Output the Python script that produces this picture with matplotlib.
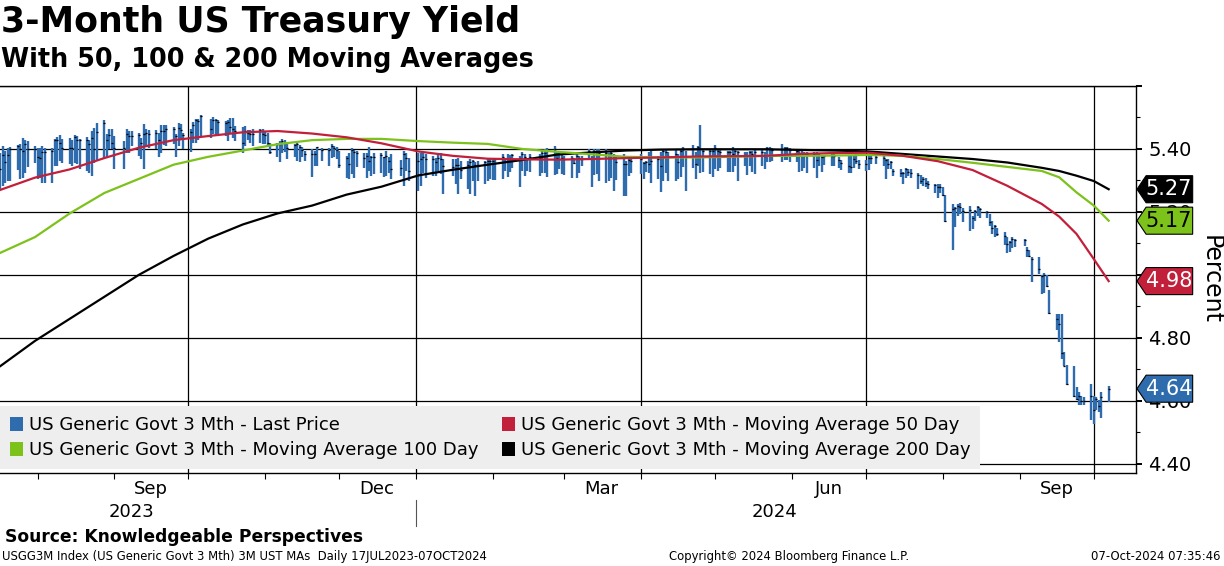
import numpy as np
import pandas as pd
import matplotlib
matplotlib.use('Agg')
import matplotlib.pyplot as plt
import matplotlib.dates as mdates
from matplotlib.patches import Patch, Polygon
from matplotlib.transforms import blended_transform_factory

# daily bars, 17 Jul 2023 - 07 Oct 2024
hi = [5.388, 5.409, 5.395, 5.404, 5.407, 5.411, 5.415, 5.434, 5.430, 5.425,
      5.409, 5.404, 5.404, 5.409, 5.404, 5.404, 5.433, 5.438, 5.444, 5.433,
      5.436, 5.430, 5.444, 5.441, 5.433, 5.438, 5.428, 5.457, 5.467, 5.481,
      5.492, 5.446, 5.464, 5.462, 5.441, 5.425, 5.465, 5.457, 5.457,
      5.452, 5.436, 5.478, 5.462, 5.460, 5.460, 5.452, 5.475, 5.475, 5.475,
      5.470, 5.449, 5.481, 5.478, 5.452, 5.465, 5.485, 5.494, 5.494, 5.507,
      5.494, 5.502, 5.496, 5.492, 5.489, 5.492, 5.499, 5.499, 5.473, 5.471,
      5.473, 5.459, 5.459, 5.464, 5.464, 5.464, 5.457,
      5.452, 5.420, 5.420, 5.426, 5.431, 5.428, 5.417, 5.415, 5.420, 5.413,
      5.405, 5.394, 5.399, 5.394, 5.407, 5.403, 5.403, 5.415, 5.410, 5.405,
      5.392, 5.378, 5.386, 5.403, 5.396, 5.392, 5.386, 5.387, 5.407, 5.378,
      5.386, 5.386, 5.375, 5.394, 5.375, 5.383, 5.364, 5.394,
      5.388, 5.372, 5.388, 5.388, 5.388, 5.383, 5.378, 5.372, 5.383, 5.386,
      5.367, 5.369, 5.367, 5.372, 5.362, 5.362, 5.367, 5.364, 5.357, 5.362,
      5.362, 5.367, 5.369, 5.369, 5.372, 5.383, 5.372, 5.383, 5.380, 5.383,
      5.378, 5.390, 5.383,
      5.372, 5.383, 5.383, 5.394, 5.399, 5.404, 5.410, 5.394, 5.394, 5.383,
      5.378, 5.378, 5.372, 5.383, 5.378, 5.378, 5.399, 5.378, 5.399, 5.399,
      5.399, 5.399, 5.388, 5.394, 5.383, 5.378, 5.383, 5.362, 5.367, 5.372,
      5.383, 5.357, 5.362,
      5.389, 5.394, 5.378, 5.389, 5.399, 5.399, 5.389, 5.399, 5.383, 5.399,
      5.407, 5.394, 5.412, 5.389, 5.410, 5.475, 5.399, 5.399, 5.399, 5.412,
      5.399, 5.399, 5.394, 5.394, 5.407, 5.399, 5.394, 5.391, 5.389, 5.394,
      5.394, 5.399, 5.399, 5.389,
      5.406, 5.406, 5.402, 5.415, 5.406, 5.406, 5.402, 5.399, 5.396, 5.394,
      5.391, 5.391, 5.391, 5.391, 5.383, 5.378, 5.381, 5.383, 5.385, 5.374,
      5.364, 5.378, 5.378, 5.378, 5.383, 5.364, 5.364, 5.381, 5.378, 5.383,
      5.378,
      5.368, 5.368, 5.362, 5.336, 5.336, 5.328, 5.339, 5.336, 5.336, 5.325,
      5.318, 5.311, 5.307, 5.297, 5.288, 5.288, 5.288, 5.280, 5.254, 5.225,
      5.216, 5.225, 5.227, 5.212, 5.219, 5.188, 5.206, 5.219, 5.212, 5.204,
      5.193, 5.172, 5.159,
      5.150, 5.137, 5.119, 5.108, 5.119, 5.113, 5.113, 5.089, 5.080, 5.055,
      5.057, 4.999, 5.006, 4.999, 4.952, 4.875, 4.875, 4.875, 4.756, 4.714,
      4.711, 4.643, 4.627, 4.616, 4.611, 4.653, 4.616, 4.613, 4.603, 4.629,
      4.645]

lo = [5.272, 5.282, 5.291, 5.298, 5.298, 5.333, 5.303, 5.309, 5.325, 5.344,
      5.356, 5.303, 5.309, 5.291, 5.291, 5.291, 5.346, 5.346, 5.362, 5.356,
      5.351, 5.346, 5.356, 5.351, 5.337, 5.330, 5.323, 5.314, 5.356, 5.362,
      5.372, 5.375, 5.399, 5.399, 5.335, 5.337, 5.388, 5.388, 5.409,
      5.378, 5.367, 5.335, 5.409, 5.404, 5.399, 5.375, 5.388, 5.411, 5.409,
      5.417, 5.375, 5.409, 5.428, 5.399, 5.391, 5.420, 5.420, 5.430, 5.441,
      5.436, 5.449, 5.441, 5.446, 5.441, 5.425, 5.452, 5.436, 5.425, 5.386,
      5.409, 5.430, 5.420, 5.409, 5.418, 5.415, 5.415,
      5.405, 5.383, 5.375, 5.357, 5.386, 5.389, 5.368, 5.373, 5.362, 5.357,
      5.373, 5.362, 5.312, 5.346, 5.346, 5.362, 5.346, 5.371, 5.373, 5.368,
      5.341, 5.309, 5.304, 5.320, 5.309, 5.343, 5.341, 5.309, 5.331, 5.315,
      5.320, 5.325, 5.312, 5.315, 5.322, 5.304, 5.315, 5.283,
      5.330, 5.298, 5.267, 5.283, 5.325, 5.309, 5.314, 5.314, 5.330, 5.320,
      5.256, 5.314, 5.288, 5.256, 5.304, 5.272, 5.256, 5.298, 5.251, 5.298,
      5.288, 5.298, 5.304, 5.302, 5.302, 5.304, 5.330, 5.312, 5.327, 5.341,
      5.280, 5.330, 5.314,
      5.330, 5.327, 5.314, 5.325, 5.325, 5.312, 5.316, 5.320, 5.335, 5.320,
      5.316, 5.309, 5.351, 5.309, 5.325, 5.346, 5.367, 5.280, 5.316, 5.320,
      5.298, 5.293, 5.298, 5.309, 5.267, 5.302, 5.251, 5.249, 5.314, 5.325,
      5.320, 5.306, 5.327,
      5.325, 5.293, 5.304, 5.264, 5.299, 5.325, 5.299, 5.297, 5.306, 5.311,
      5.343, 5.267, 5.338, 5.304, 5.346, 5.325, 5.327, 5.320, 5.312, 5.336,
      5.330, 5.338, 5.328, 5.328, 5.327, 5.346, 5.299, 5.346, 5.317, 5.346,
      5.328, 5.320, 5.346, 5.336,
      5.360, 5.360, 5.362, 5.360, 5.364, 5.364, 5.360, 5.360, 5.328, 5.330,
      5.341, 5.322, 5.341, 5.309, 5.346, 5.328, 5.349, 5.346, 5.346, 5.338,
      5.332, 5.322, 5.322, 5.338, 5.351, 5.335, 5.330, 5.332, 5.353, 5.351,
      5.346,
      5.306, 5.336, 5.336, 5.315, 5.311, 5.288, 5.307, 5.315, 5.309, 5.272,
      5.290, 5.283, 5.280, 5.272, 5.259, 5.244, 5.259, 5.251, 5.169, 5.079,
      5.151, 5.188, 5.193, 5.167, 5.138, 5.145, 5.172, 5.188, 5.182, 5.182,
      5.156, 5.129, 5.119,
      5.122, 5.094, 5.069, 5.071, 5.084, 5.087, 5.090, 5.055, 5.055, 4.976,
      5.002, 4.939, 4.942, 4.960, 4.875, 4.826, 4.785, 4.733, 4.709, 4.650,
      4.611, 4.603, 4.587, 4.587, 4.587, 4.539, 4.526, 4.569, 4.565, 4.545,
      4.597]

cl = [5.335, 5.380, 5.360, 5.380, 5.400, 5.409, 5.400, 5.393, 5.415, 5.400,
      5.399, 5.375, 5.372, 5.390, 5.390, 5.392, 5.430, 5.430, 5.420, 5.404,
      5.404, 5.404, 5.439, 5.430, 5.430, 5.430, 5.415, 5.436, 5.399, 5.454,
      5.481, 5.430, 5.443, 5.420, 5.404, 5.402, 5.449, 5.441, 5.441,
      5.443, 5.420, 5.446, 5.452, 5.449, 5.452, 5.430, 5.457, 5.457, 5.462,
      5.465, 5.441, 5.467, 5.459, 5.443, 5.455, 5.475, 5.492, 5.489, 5.505,
      5.465, 5.491, 5.491, 5.485, 5.483, 5.485, 5.471, 5.462, 5.457, 5.420,
      5.458, 5.452, 5.449, 5.446, 5.459, 5.446, 5.443,
      5.420, 5.389, 5.415, 5.417, 5.426, 5.420, 5.403, 5.411, 5.415, 5.405,
      5.396, 5.383, 5.383, 5.383, 5.405, 5.396, 5.396, 5.410, 5.403, 5.396,
      5.350, 5.371, 5.352, 5.396, 5.389, 5.386, 5.371, 5.378, 5.362, 5.373,
      5.373, 5.380, 5.373, 5.378, 5.362, 5.336, 5.339, 5.383,
      5.370, 5.330, 5.362, 5.369, 5.376, 5.369, 5.369, 5.357, 5.372, 5.367,
      5.346, 5.344, 5.348, 5.348, 5.332, 5.348, 5.357, 5.362, 5.348, 5.348,
      5.357, 5.362, 5.362, 5.362, 5.367, 5.376, 5.367, 5.369, 5.372, 5.380,
      5.372, 5.383, 5.376,
      5.367, 5.376, 5.372, 5.388, 5.386, 5.394, 5.401, 5.372, 5.390, 5.372,
      5.369, 5.372, 5.355, 5.378, 5.372, 5.367, 5.394, 5.372, 5.394, 5.394,
      5.388, 5.388, 5.372, 5.388, 5.372, 5.359, 5.351, 5.351, 5.365, 5.362,
      5.367, 5.355, 5.359,
      5.352, 5.362, 5.367, 5.346, 5.394, 5.391, 5.378, 5.383, 5.359, 5.394,
      5.399, 5.373, 5.399, 5.352, 5.407, 5.378, 5.394, 5.394, 5.394, 5.404,
      5.394, 5.391, 5.391, 5.391, 5.383, 5.394, 5.391, 5.380, 5.378, 5.391,
      5.383, 5.391, 5.391, 5.378,
      5.404, 5.399, 5.396, 5.399, 5.404, 5.404, 5.396, 5.394, 5.388, 5.385,
      5.385, 5.383, 5.383, 5.364, 5.381, 5.374, 5.378, 5.378, 5.378, 5.364,
      5.354, 5.346, 5.343, 5.367, 5.362, 5.351, 5.353, 5.372, 5.372, 5.374,
      5.372,
      5.364, 5.352, 5.357, 5.331, 5.322, 5.325, 5.336, 5.328, 5.325, 5.318,
      5.297, 5.304, 5.293, 5.288, 5.285, 5.280, 5.278, 5.254, 5.172, 5.209,
      5.212, 5.219, 5.214, 5.204, 5.206, 5.182, 5.204, 5.216, 5.209, 5.201,
      5.167, 5.149, 5.156,
      5.129, 5.124, 5.098, 5.105, 5.113, 5.111, 5.111, 5.079, 5.061, 5.050,
      5.018, 4.997, 4.999, 4.965, 4.879, 4.860, 4.844, 4.752, 4.711, 4.653,
      4.616, 4.606, 4.616, 4.600, 4.600, 4.616, 4.569, 4.606, 4.584, 4.611,
      4.638]

# bond market holidays in the window
holidays = ['2023-09-04', '2023-10-09', '2023-11-23', '2023-12-25', '2024-01-01',
            '2024-01-15', '2024-02-19', '2024-03-29', '2024-05-27', '2024-06-19',
            '2024-07-04', '2024-09-02']

# moving averages, sampled every two weeks
ma_dates = ['2023-07-17', '2023-07-31', '2023-08-14', '2023-08-28', '2023-09-11',
            '2023-09-25', '2023-10-09', '2023-10-23', '2023-11-06', '2023-11-20',
            '2023-12-04', '2023-12-18', '2024-01-02', '2024-01-16', '2024-01-30',
            '2024-02-13', '2024-02-27', '2024-03-12', '2024-03-26', '2024-04-09',
            '2024-04-23', '2024-05-07', '2024-05-21', '2024-06-04', '2024-06-18',
            '2024-07-02', '2024-07-16', '2024-07-30', '2024-08-13', '2024-08-27',
            '2024-09-10', '2024-09-17', '2024-09-24', '2024-10-01', '2024-10-07']
ma50 = [5.270, 5.309, 5.335, 5.371, 5.404, 5.428, 5.441, 5.453, 5.457, 5.449,
        5.437, 5.418, 5.392, 5.378, 5.369, 5.367, 5.366, 5.368, 5.371, 5.373,
        5.376, 5.377, 5.378, 5.384, 5.387, 5.388, 5.378, 5.361, 5.333, 5.283,
        5.225, 5.185, 5.130, 5.050, 4.980]
ma100 = [5.070, 5.120, 5.195, 5.260, 5.305, 5.350, 5.375, 5.395, 5.415, 5.428,
         5.432, 5.432, 5.425, 5.420, 5.416, 5.400, 5.391, 5.383, 5.375, 5.373,
         5.373, 5.375, 5.378, 5.378, 5.379, 5.381, 5.378, 5.368, 5.356, 5.343,
         5.330, 5.310, 5.262, 5.220, 5.172]
ma200 = [4.710, 4.790, 4.860, 4.930, 5.000, 5.060, 5.115, 5.160, 5.195, 5.220,
         5.255, 5.280, 5.316, 5.334, 5.350, 5.365, 5.382, 5.389, 5.395, 5.398,
         5.399, 5.399, 5.399, 5.397, 5.395, 5.392, 5.384, 5.376, 5.368, 5.357,
         5.340, 5.330, 5.315, 5.298, 5.272]

yticks = [4.40, 4.60, 4.80, 5.00, 5.20, 5.40, 5.60]
ytick_labels = ['4.40', '4.60', '4.80', '5.00', '5.20', '5.40', '']
quarter_starts = ['2023-10-01', '2024-01-01', '2024-04-01', '2024-07-01', '2024-10-01']
month_labels = ['2023-09-16', '2023-12-16', '2024-03-16', '2024-06-16', '2024-09-16']
years = ['2023', '2024']
year_centers = ['2023-09-08', '2024-05-25']

legend_labels = ['US Generic Govt 3 Mth - Last Price',
                 'US Generic Govt 3 Mth - Moving Average 100 Day',
                 'US Generic Govt 3 Mth - Moving Average 50 Day',
                 'US Generic Govt 3 Mth - Moving Average 200 Day']

BLUE = '#2E6CAD'
RED = '#C21F3A'
GREEN = '#7CC21A'
BLACK = '#000000'

days = pd.bdate_range('2023-07-17', '2024-10-07')
days = days[~days.isin(pd.to_datetime(holidays))]
if len(days) != len(cl):
    print('date count', len(days), 'bars', len(cl))
    days = days[len(days) - len(cl):]
ma_days = pd.to_datetime(ma_dates)

fig = plt.figure(figsize=(12.24, 5.66), dpi=100)
ax = fig.add_axes([0.0, 0.1643, 0.928, 0.6837])

ax.vlines(days, lo, hi, color=BLUE, lw=1.7, zorder=3)
ax.plot(days, cl, ls='none', marker='_', ms=2.0, mew=0.9, color='black', zorder=4)
ax.plot(ma_days, ma200, color=BLACK, lw=1.6, zorder=5)
ax.plot(ma_days, ma100, color=GREEN, lw=1.6, zorder=6)
ax.plot(ma_days, ma50, color=RED, lw=1.6, zorder=7)

ax.set_xlim(pd.Timestamp('2023-07-16 20:00'), pd.Timestamp('2024-10-18'))
ax.set_ylim(4.37, 5.60)

# grid
for v in yticks:
    ax.axhline(v, color='black', lw=0.9, zorder=1)
for q in pd.to_datetime(quarter_starts):
    ax.axvline(q, color='black', lw=0.9, zorder=1)

# right axis
ax.yaxis.tick_right()
ax.set_yticks(yticks)
ax.set_yticklabels(ytick_labels)
ax.set_yticks(np.arange(4.5, 5.6, 0.2), minor=True)
ax.tick_params(axis='y', which='major', length=4, width=1.4, pad=5, labelsize=14)
ax.tick_params(axis='y', which='minor', length=3, width=0.8)
ax.yaxis.set_label_position('right')
ax.set_ylabel('Percent', fontsize=17, rotation=270, labelpad=22)

# x axis: month ticks, labels centred mid-month
ax.xaxis.set_major_locator(mdates.MonthLocator())
ax.xaxis.set_major_formatter(plt.NullFormatter())
ax.set_xticks(pd.to_datetime(month_labels), minor=True)
ax.xaxis.set_minor_formatter(mdates.DateFormatter('%b'))
ax.tick_params(axis='x', which='major', length=4, width=0.8)
ax.tick_params(axis='x', which='minor', length=0, pad=5, labelsize=13)

ax.spines['left'].set_visible(False)
for s in ['top', 'right', 'bottom']:
    ax.spines[s].set_linewidth(1.0)

# years under the months
tr = blended_transform_factory(ax.transData, ax.transAxes)
for yr, c in zip(years, pd.to_datetime(year_centers)):
    ax.text(c, -0.10, yr, transform=tr, ha='center', va='center', fontsize=13)
ax.plot([pd.Timestamp('2024-01-01')] * 2, [-0.07, -0.137], transform=tr,
        color='#555555', lw=0.8, clip_on=False)

# value tags on the right axis
tr2 = blended_transform_factory(ax.transAxes, ax.transData)
h = 0.043
tags = [(ma200[-1], BLACK, 'white'), (ma100[-1], GREEN, 'black'),
        (ma50[-1], RED, 'white'), (cl[-1], BLUE, 'white')]
for val, face, tc in tags:
    poly = Polygon([(1.001, val), (1.009, val + h), (1.050, val + h),
                    (1.050, val - h), (1.009, val - h)], closed=True,
                   facecolor=face, edgecolor='black', lw=0.8,
                   transform=tr2, clip_on=False, zorder=10)
    ax.add_patch(poly)
    ax.text(1.029, val, f'{val:.2f}', transform=tr2, ha='center', va='center',
            fontsize=15, color=tc, zorder=11, clip_on=False)

# legend
handles = [Patch(facecolor=BLUE), Patch(facecolor=GREEN),
           Patch(facecolor=RED), Patch(facecolor=BLACK)]
leg = ax.legend(handles, legend_labels, loc='lower left', bbox_to_anchor=(0.0, 0.01),
                ncol=2, fontsize=13.0, frameon=True, fancybox=False, framealpha=1,
                borderaxespad=0, handlelength=0.75, handleheight=0.75,
                handletextpad=0.3, columnspacing=1.3, labelspacing=0.38,
                borderpad=0.55)
leg.get_frame().set_facecolor('#EEEEEE')
leg.get_frame().set_edgecolor('none')
leg.set_zorder(8)

# titles and footer
fig.text(0.001, 0.961, '3-Month US Treasury Yield', fontsize=25, fontweight='bold',
         ha='left', va='center')
fig.text(0.001, 0.894, 'With 50, 100 & 200 Moving Averages', fontsize=18.4,
         fontweight='bold', ha='left', va='center')
fig.text(0.004, 0.051, 'Source: Knowledgeable Perspectives', fontsize=12.3,
         fontweight='bold', ha='left', va='center')
fig.text(0.002, 0.016, 'USGG3M Index (US Generic Govt 3 Mth) 3M UST MAs  Daily 17JUL2023-07OCT2024',
         fontsize=8.4, ha='left', va='center')
fig.text(0.645, 0.016, 'Copyright\u00a9 2024 Bloomberg Finance L.P.', fontsize=8.4,
         ha='center', va='center')
fig.text(0.997, 0.016, '07-Oct-2024 07:35:46', fontsize=8.4, ha='right', va='center')

fig.savefig('out.png', dpi=100)
